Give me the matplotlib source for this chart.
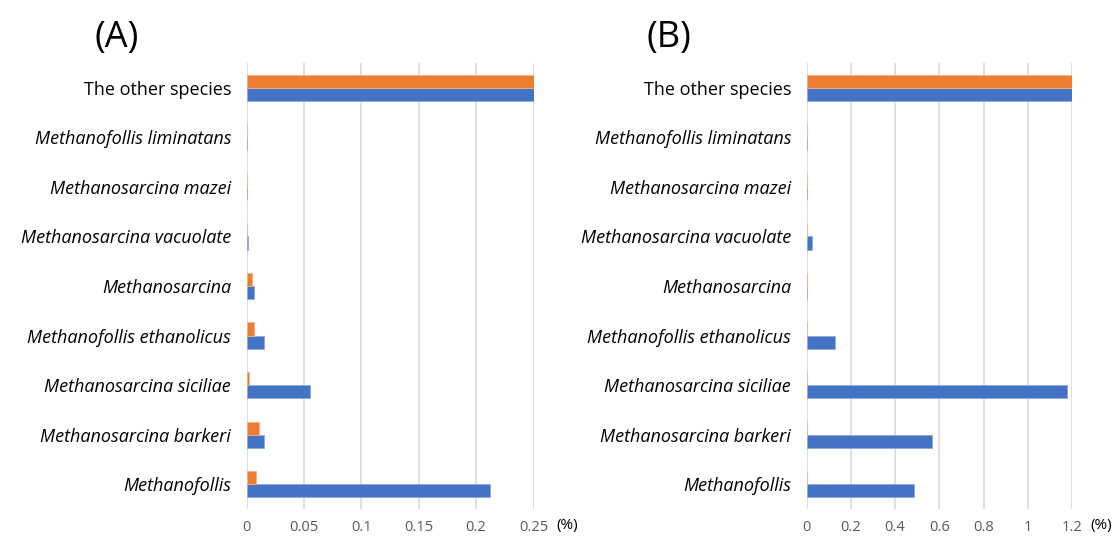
import numpy as np
import matplotlib
matplotlib.use("Agg")
import matplotlib.pyplot as plt

plt.rcParams['font.family'] = ['Open Sans', 'DejaVu Sans']

# species, listed bottom to top
species = ['Methanofollis', 'Methanosarcina barkeri', 'Methanosarcina siciliae',
           'Methanofollis ethanolicus', 'Methanosarcina', 'Methanosarcina vacuolate',
           'Methanosarcina mazei', 'Methanofollis liminatans', 'The other species']
italic = [True, True, True, True, True, True, True, True, False]

# panel A (%)
a_blue = [0.212, 0.015, 0.055, 0.015, 0.0065, 0.001, 0.0, 0.0, 0.25]
a_orange = [0.008, 0.011, 0.002, 0.0065, 0.0044, 0.0, 0.0, 0.0, 0.25]
a_ticks = [0, 0.05, 0.1, 0.15, 0.2, 0.25]
a_ticklabels = ['0', '0.05', '0.1', '0.15', '0.2', '0.25']

# panel B (%)
b_blue = [0.488, 0.568, 1.179, 0.129, 0.003, 0.025, 0.003, 0.003, 1.2]
b_orange = [0.002, 0.0, 0.0, 0.0, 0.003, 0.0, 0.0, 0.0, 1.2]
b_ticks = [0, 0.2, 0.4, 0.6, 0.8, 1.0, 1.2]
b_ticklabels = ['0', '0.2', '0.4', '0.6', '0.8', '1', '1.2']

BLUE = '#4472C4'
ORANGE = '#ED7D31'
W, H = 1112, 538

fig = plt.figure(figsize=(W / 100, H / 100), dpi=100)


def panel(left, right, blue, orange, ticks, ticklabels, tag, tag_x, unit_x):
    ax = fig.add_axes([left / W, 1 - 509 / H, (right - left) / W, (509 - 63) / H])
    y = np.arange(len(species))
    h = 0.265
    ax.barh(y - h / 2, blue, height=h, color=BLUE, edgecolor='#8faadc', linewidth=0.6, zorder=3)
    ax.barh(y + h / 2, orange, height=h, color=ORANGE, edgecolor='#f4b183', linewidth=0.6, zorder=3)
    ax.set_xlim(0, ticks[-1])
    ax.set_ylim(-0.5, len(species) - 0.5)
    ax.set_xticks(ticks)
    ax.set_xticklabels(ticklabels, color='#595959', fontsize=10.5)
    ax.set_yticks(y)
    ax.set_yticklabels(species, fontsize=13, color='black')
    for lab, it in zip(ax.get_yticklabels(), italic):
        if it:
            lab.set_style('italic')
    ax.tick_params(axis='both', length=0)
    ax.tick_params(axis='x', pad=8)
    ax.tick_params(axis='y', pad=11)
    ax.grid(axis='x', color='#d9d9d9', linewidth=1.2, zorder=0)
    for s in ax.spines.values():
        s.set_visible(False)
    fig.text(unit_x / W, 1 - 526 / H, '(%)', ha='left', va='center',
             fontsize=11, color='black')
    fig.text(tag_x / W, 1 - 38 / H, tag, fontsize=26, ha='left', va='center')
    return ax


panel(246.5, 533.5, a_blue, a_orange, a_ticks, a_ticklabels, '(A)', 94, 556)
panel(806.5, 1072, b_blue, b_orange, b_ticks, b_ticklabels, '(B)', 647, 1090)

fig.savefig('out.png', dpi=100)
